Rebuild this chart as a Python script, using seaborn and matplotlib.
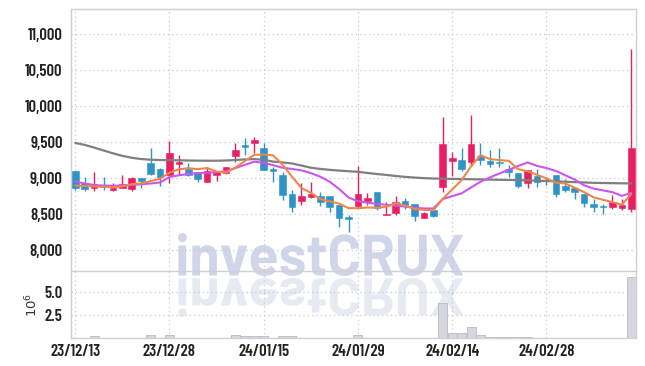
import numpy as np
import pandas as pd
import matplotlib
matplotlib.use("Agg")
import matplotlib.pyplot as plt
import seaborn as sns
from matplotlib import font_manager
from matplotlib.textpath import TextPath
from matplotlib.patches import PathPatch
from matplotlib.font_manager import FontProperties
from matplotlib.transforms import Affine2D, IdentityTransform

# ---------------- data ----------------
dates = ["23/12/13", "23/12/14", "23/12/15", "23/12/18", "23/12/19", "23/12/20", "23/12/21", "23/12/22",
         "23/12/26", "23/12/27", "23/12/28", "24/01/02", "24/01/03", "24/01/04", "24/01/05", "24/01/08",
         "24/01/09", "24/01/10", "24/01/11", "24/01/12", "24/01/15", "24/01/16", "24/01/17", "24/01/18",
         "24/01/19", "24/01/22", "24/01/23", "24/01/24", "24/01/25", "24/01/26", "24/01/29", "24/01/30",
         "24/01/31", "24/02/01", "24/02/02", "24/02/05", "24/02/06", "24/02/07", "24/02/08", "24/02/13",
         "24/02/14", "24/02/15", "24/02/16", "24/02/19", "24/02/20", "24/02/21", "24/02/22", "24/02/23",
         "24/02/26", "24/02/27", "24/02/28", "24/02/29", "24/03/04", "24/03/05", "24/03/06", "24/03/07",
         "24/03/08", "24/03/11", "24/03/12", "24/03/13"]

opens = [9097, 8935, 8866, 8900, 8833, 8866, 8843, 9005, 9212, 9125,
         9042, 9199, 9134, 9079, 8949, 9037, 9074, 9310, 9458, 9490,
         9412, 9125, 9042, 8778, 8685, 8741, 8750, 8750, 8625, 8454,
         8616, 8681, 8810, 8482, 8509, 8681, 8639, 8449, 8556, 8880,
         9240, 9250, 9226, 9310, 9236, 9218, 9125, 9074, 8935, 9028,
         8972, 9042, 8889, 8870, 8778, 8639, 8616, 8602, 8588, 8565]
highs = [9100, 9010, 9080, 9018, 8930, 9050, 9010, 9005, 9412, 9140,
         9518, 9320, 9212, 9090, 9157, 9102, 9160, 9490, 9551, 9574,
         9482, 9157, 9088, 8833, 8926, 8949, 8810, 8750, 8625, 8486,
         9167, 8796, 8810, 8671, 8754, 8718, 8639, 8532, 8556, 9852,
         9365, 9412, 9884, 9482, 9390, 9412, 9180, 9074, 9111, 9134,
         9018, 9042, 8995, 8870, 8778, 8704, 8639, 8764, 8704, 10801]
lows = [8830, 8820, 8820, 8833, 8820, 8857, 8820, 8866, 9042, 8889,
        8926, 9042, 9028, 8940, 8949, 8954, 9060, 9226, 9320, 9343,
        9111, 8949, 8694, 8524, 8625, 8718, 8611, 8532, 8315, 8254,
        8602, 8625, 8560, 8482, 8486, 8569, 8403, 8440, 8460, 8810,
        9032, 9102, 9167, 9180, 9157, 9157, 9018, 8870, 8870, 8880,
        8903, 8741, 8810, 8704, 8593, 8523, 8495, 8565, 8556, 8532]
closes = [8857, 8843, 8917, 8880, 8866, 8917, 9005, 8958, 9055, 9018,
          9351, 9226, 9042, 8990, 9093, 9102, 9157, 9398, 9435, 9528,
          9120, 9093, 8764, 8593, 8750, 8778, 8671, 8593, 8440, 8431,
          8778, 8718, 8579, 8505, 8671, 8625, 8477, 8518, 8477, 9468,
          9273, 9134, 9468, 9250, 9199, 9204, 9079, 8889, 9111, 8949,
          8958, 8778, 8833, 8810, 8648, 8602, 8602, 8671, 8625, 9412]
volumes = [0.05, 0.05, 0.25, 0.05, 0.05, 0.05, 0.05, 0.05, 0.37, 0.05,
           0.37, 0.05, 0.05, 0.05, 0.05, 0.05, 0.05, 0.37, 0.20, 0.20,
           0.20, 0.05, 0.20, 0.20, 0.05, 0.05, 0.05, 0.05, 0.05, 0.05,
           0.37, 0.05, 0.05, 0.05, 0.05, 0.05, 0.05, 0.05, 0.05, 3.82,
           0.52, 0.52, 1.18, 0.37, 0.15, 0.15, 0.15, 0.15, 0.15, 0.05,
           0.05, 0.05, 0.05, 0.05, 0.05, 0.05, 0.05, 0.05, 0.05, 6.65]
ma_short = [8898, 8890, 8885, 8880, 8873, 8885, 8917, 8925, 8960, 8991,
            9077, 9122, 9138, 9125, 9140, 9091, 9077, 9148, 9237, 9324,
            9328, 9315, 9188, 9020, 8864, 8796, 8711, 8677, 8646, 8583,
            8583, 8592, 8589, 8602, 8650, 8620, 8571, 8559, 8554, 8713,
            8843, 8974, 9164, 9319, 9265, 9251, 9240, 9124, 9096, 9046,
            8997, 8937, 8926, 8866, 8805, 8734, 8699, 8667, 8630, 8782]
ma_mid = [8955, 8925, 8905, 8897, 8894, 8898, 8905, 8915, 8926, 8940,
          9015, 9040, 9058, 9068, 9075, 9083, 9095, 9140, 9185, 9228,
          9212, 9180, 9145, 9128, 9108, 9070, 9020, 8950, 8850, 8730,
          8680, 8660, 8643, 8630, 8618, 8605, 8588, 8579, 8579, 8710,
          8750, 8790, 8870, 8950, 9010, 9065, 9115, 9170, 9218, 9170,
          9140, 9100, 9040, 8980, 8900, 8855, 8830, 8805, 8754, 8796]
ma_long = [9490, 9462, 9425, 9385, 9345, 9310, 9283, 9265, 9256, 9252,
           9250, 9248, 9245, 9243, 9242, 9242, 9245, 9252, 9260, 9264,
           9255, 9230, 9218, 9204, 9175, 9145, 9128, 9115, 9105, 9096,
           9088, 9072, 9057, 9045, 9030, 9018, 9008, 9000, 8995, 8992,
           8990, 8988, 8985, 8983, 8980, 8977, 8975, 8972, 8970, 8965,
           8960, 8955, 8950, 8945, 8940, 8935, 8932, 8930, 8928, 8926]
tick_positions = [0, 10, 20, 30, 40, 50]
price_ticks = [8000, 8500, 9000, 9500, 10000, 10500, 11000]
vol_ticks = [2.5, 5.0]

# ---------------- style ----------------
UP = "#e91e63"
DOWN = "#2e93c6"
C_SHORT = "#f0854a"
C_MID = "#cc55ee"
C_LONG = "#7f7f7f"
GRID = "#c4c8dc"
SPINE = "#cfcfd4"

sns.set_theme(style="white")
avail = {f.name for f in font_manager.fontManager.ttflist}
if "Barlow Condensed" in avail:
    LBL_FAMILY = ["Barlow Condensed", "DejaVu Sans"]
elif "Barlow Semi Condensed" in avail:
    LBL_FAMILY = ["Barlow Semi Condensed", "DejaVu Sans"]
else:
    LBL_FAMILY = ["DejaVu Sans"]
WM_FAMILY = "Barlow" if "Barlow" in avail else "DejaVu Sans"
plt.rcParams["font.family"] = ["DejaVu Sans"]

df = pd.DataFrame({"idx": np.arange(len(dates)), "date": dates, "open": opens, "high": highs,
                   "low": lows, "close": closes, "vol": volumes,
                   "ma_short": ma_short, "ma_mid": ma_mid, "ma_long": ma_long})

W, H = 645, 366
fig = plt.figure(figsize=(W / 100, H / 100), dpi=100)
fig.patch.set_facecolor("white")

def axrect(l, t, r, b):
    return [l / W, 1 - b / H, (r - l) / W, (b - t) / H]

ax = fig.add_axes(axrect(71, 9, 636, 271))
axv = fig.add_axes(axrect(71, 271, 636, 338), sharex=ax)
for a in (ax, axv):
    a.set_facecolor("none")

# ---------------- watermark ----------------
fp = FontProperties(family=WM_FAMILY, weight="bold")
tp = TextPath((0, 0), "investCRUX", prop=fp, size=40)
ext = tp.get_extents()
wx0, wx1 = 178, 463
wtop, wbot = H - 233, H - 276
sx = (wx1 - wx0) / ext.width
sy = (wtop - wbot) / ext.height
main_tr = Affine2D().translate(-ext.x0, -ext.y0).scale(sx, sy).translate(wx0, wbot)
refl_tr = Affine2D().translate(-ext.x0, -ext.y0).scale(sx, -sy * 0.9).translate(wx0, wbot - 2)
wm = PathPatch(main_tr.transform_path(tp), facecolor="#c9cee6", edgecolor="none",
               transform=IdentityTransform(), zorder=-5, alpha=0.85)
wm2 = PathPatch(refl_tr.transform_path(tp), facecolor="#e6e8f1", edgecolor="none",
                transform=IdentityTransform(), zorder=-5, alpha=0.9)
fig.patches.extend([wm, wm2])

# ---------------- candles ----------------
up = df["close"] >= df["open"]
colors = np.where(up, UP, DOWN)
body_bottom = np.minimum(df["open"], df["close"])
body_h = np.maximum(np.abs(df["close"] - df["open"]), 12)
ax.vlines(df["idx"], df["low"], df["high"], colors=colors, linewidth=1.0, zorder=3)
ax.bar(df["idx"], body_h, bottom=body_bottom, width=0.7, color=colors, edgecolor=colors,
       linewidth=0.4, zorder=4)

# moving averages
sns.lineplot(data=df, x="idx", y="ma_long", ax=ax, color=C_LONG, linewidth=1.6, zorder=5, legend=False)
sns.lineplot(data=df, x="idx", y="ma_mid", ax=ax, color=C_MID, linewidth=1.5, zorder=6, legend=False)
sns.lineplot(data=df, x="idx", y="ma_short", ax=ax, color=C_SHORT, linewidth=1.5, zorder=7, legend=False)

ax.set_xlim(-0.45, 59.5)
ax.set_ylim(7710, 11350)
ax.set_yticks(price_ticks)
ax.set_yticklabels([f"{v:,}" for v in price_ticks])
ax.set_xlabel("")
ax.set_ylabel("")
ax.grid(True, linestyle=(0, (1, 2.5)), color=GRID, linewidth=0.9)
ax.set_axisbelow(True)
ax.tick_params(axis="x", labelbottom=False, length=0)
ax.tick_params(axis="y", length=0, pad=6)

# ---------------- volume ----------------
axv.bar(df["idx"], df["vol"], width=0.95, color="#d6d7de", edgecolor="#b8b9c2", linewidth=0.6, zorder=3)
axv.set_ylim(0, 7.3)
axv.set_yticks(vol_ticks)
axv.set_yticklabels(["2.5", "5.0"])
axv.set_xticks(tick_positions)
axv.set_xticklabels([dates[i] for i in tick_positions])
axv.grid(True, linestyle=(0, (1, 2.5)), color=GRID, linewidth=0.9)
axv.set_axisbelow(True)
axv.tick_params(axis="both", length=0)
axv.tick_params(axis="y", pad=6)
axv.tick_params(axis="x", pad=4)
axv.set_ylabel(r"$10^{6}$", fontsize=9.5, labelpad=3, color="#333333")

for lbl in ax.get_yticklabels() + axv.get_yticklabels() + axv.get_xticklabels():
    lbl.set_fontfamily(LBL_FAMILY)
    lbl.set_fontsize(12)
    lbl.set_fontweight(600)
    lbl.set_color("#222222")

for a in (ax, axv):
    for s in a.spines.values():
        s.set_color(SPINE)
        s.set_linewidth(1.0)
axv.spines["top"].set_visible(False)

fig.savefig("out.png", dpi=100)
